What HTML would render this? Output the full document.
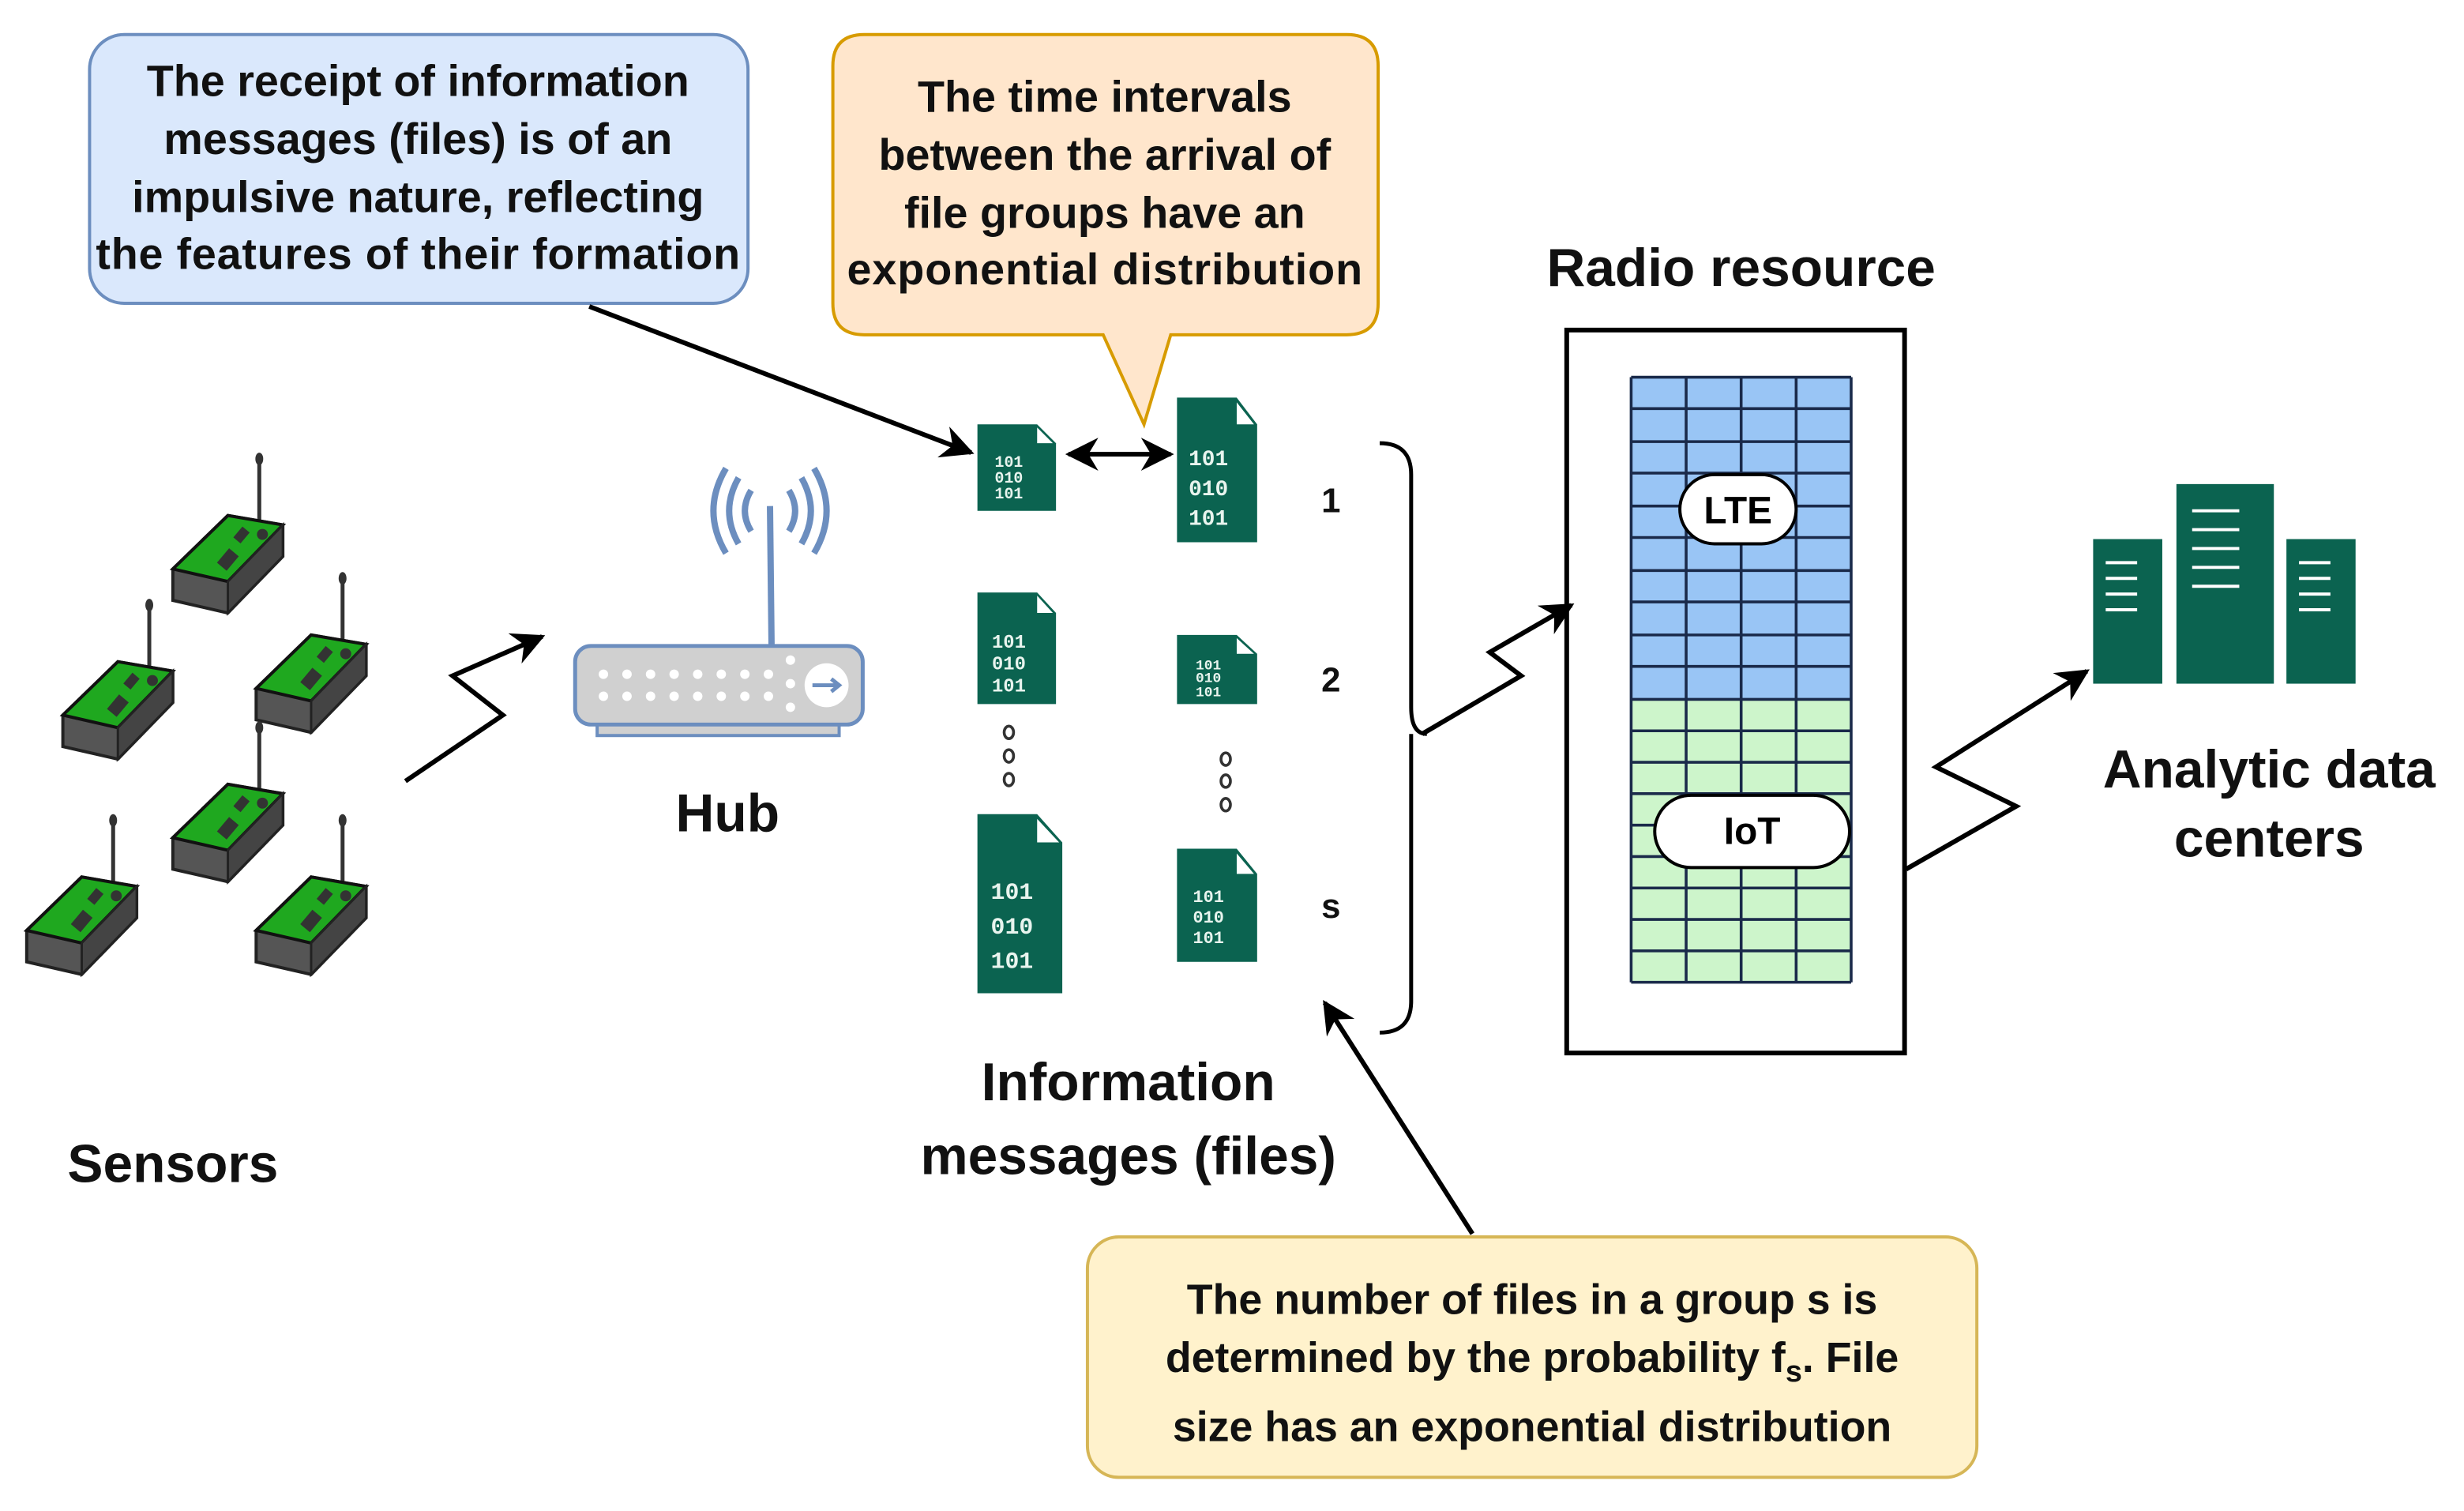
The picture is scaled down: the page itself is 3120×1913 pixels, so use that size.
<!DOCTYPE html>
<html><head><meta charset="utf-8"><style>html,body{margin:0;padding:0;background:#fff}svg{display:block}</style></head><body>
<svg width="3120" height="1913" viewBox="0 0 1568 961.4" xmlns="http://www.w3.org/2000/svg" font-family="Liberation Sans, Arial, sans-serif">
<defs>
<marker id="ah" viewBox="0 0 10 10" refX="9" refY="5" markerWidth="7" markerHeight="7" orient="auto-start-reverse"><path d="M0,0 L10,5 L0,10 L3,5 z" fill="#000"/></marker>
<g id="sensor">
<line x1="0" y1="0" x2="0" y2="45" stroke="#333" stroke-width="2.5"/>
<ellipse cx="0" cy="0" rx="2.5" ry="4" fill="#333"/>
<polygon points="-55,70 -20,36 15,42 15,62 -20,98 -55,90" fill="#555" stroke="#222" stroke-width="2"/>
<polygon points="-55,70 -20,36 15,42 -20,78" fill="#1fa81f" stroke="#111" stroke-width="2"/>
<polygon points="-20,78 15,42 15,62 -20,98" fill="#444" stroke="#222" stroke-width="1.5"/>
<rect x="-14" y="44" width="6" height="9" fill="#333" transform="rotate(40 -11 48)"/><circle cx="2" cy="48" r="3.5" fill="#333"/>
<rect x="-24" y="58" width="8" height="12" fill="#333" transform="rotate(40 -20 64)"/>
</g>
<g id="srv"><rect x="0" y="0" width="44" height="92" fill="#0b6350"/></g>
</defs>
<!-- callouts -->
<rect x="57" y="22" width="419" height="171" rx="22" fill="#dae8fc" stroke="#6c8ebf" stroke-width="2"/>
<g font-size="28" font-weight="bold" text-anchor="middle" fill="#111">
<text x="266" y="61">The receipt of information</text>
<text x="266" y="98">messages (files) is of an</text>
<text x="266" y="135">impulsive nature, reflecting</text>
<text x="266" y="171" textLength="410">the features of their formation</text>
</g>
<path d="M550,22 H857 Q877,22 877,42 V193 Q877,213 857,213 H745 L728,270 L702,213 H550 Q530,213 530,193 V42 Q530,22 550,22 Z" fill="#ffe6cc" stroke="#d79b00" stroke-width="2"/>
<g font-size="28" font-weight="bold" text-anchor="middle" fill="#111">
<text x="703" y="71">The time intervals</text>
<text x="703" y="108">between the arrival of</text>
<text x="703" y="145">file groups have an</text>
<text x="703" y="181" textLength="328">exponential distribution</text>
</g>
<rect x="692" y="787" width="566" height="153" rx="20" fill="#fff2cc" stroke="#d6b656" stroke-width="2"/>
<g font-size="27" font-weight="bold" text-anchor="middle" fill="#111">
<text x="975" y="836">The number of files in a group s is</text>
<text x="975" y="873">determined by the probability f<tspan font-size="19" dy="6">s</tspan><tspan dy="-6">. File</tspan></text>
<text x="975" y="917">size has an exponential distribution</text>
</g>
<!-- labels -->
<g font-size="34" font-weight="bold" text-anchor="middle" fill="#111">
<text x="1108" y="182">Radio resource</text>
<text x="463" y="529">Hub</text>
<text x="110" y="752">Sensors</text>
<text x="718" y="700">Information</text>
<text x="718" y="747">messages (files)</text>
<text x="1444" y="501">Analytic data</text>
<text x="1444" y="545">centers</text>
</g>
<g font-size="22" font-weight="bold" text-anchor="middle" fill="#111">
<text x="847" y="326">1</text><text x="847" y="440">2</text><text x="847" y="584">s</text>
</g>
<!-- sensors -->
<use href="#sensor" x="165" y="292"/>
<use href="#sensor" x="95" y="385"/>
<use href="#sensor" x="218" y="368"/>
<use href="#sensor" x="165" y="463"/>
<use href="#sensor" x="72" y="522"/>
<use href="#sensor" x="218" y="522"/>
<!-- hub -->
<g fill="none" stroke="#6c8ebf" stroke-width="4">
<path d="M478,312 Q470,325 478,338"/><path d="M470,304 Q458,325 470,346"/><path d="M462,298 Q446,325 462,352"/>
<path d="M502,312 Q510,325 502,338"/><path d="M510,304 Q522,325 510,346"/><path d="M518,298 Q534,325 518,352"/>
</g>
<line x1="490" y1="322" x2="491" y2="412" stroke="#6c8ebf" stroke-width="4"/>
<rect x="380" y="458" width="154" height="10" fill="#d0d0d0" stroke="#6c8ebf" stroke-width="2"/>
<rect x="366" y="411" width="183" height="50" rx="10" fill="#d0d0d0" stroke="#6c8ebf" stroke-width="2.5"/>
<g fill="#fff">
<circle cx="384" cy="429" r="3"/><circle cx="399" cy="429" r="3"/><circle cx="414" cy="429" r="3"/><circle cx="429" cy="429" r="3"/><circle cx="444" cy="429" r="3"/><circle cx="459" cy="429" r="3"/><circle cx="474" cy="429" r="3"/><circle cx="489" cy="429" r="3"/>
<circle cx="384" cy="443" r="3"/><circle cx="399" cy="443" r="3"/><circle cx="414" cy="443" r="3"/><circle cx="429" cy="443" r="3"/><circle cx="444" cy="443" r="3"/><circle cx="459" cy="443" r="3"/><circle cx="474" cy="443" r="3"/><circle cx="489" cy="443" r="3"/>
<circle cx="503" cy="420" r="3"/><circle cx="503" cy="435" r="3"/><circle cx="503" cy="450" r="3"/>
<circle cx="526" cy="436" r="14"/>
</g>
<path d="M517,436 H533 M529,432 L534,436 L529,440" stroke="#6c8ebf" stroke-width="2.5" fill="none"/>
<!-- files -->
<g fill="#0b6350">
<path d="M622,270 H660 L672,282 V325 H622 Z"/>
<path d="M749,253 H787 L800,270 V345 H749 Z"/>
<path d="M622,377 H660 L672,390 V448 H622 Z"/>
<path d="M749,404 H787 L800,416 V448 H749 Z"/>
<path d="M622,518 H660 L676,536 V632 H622 Z"/>
<path d="M749,540 H787 L800,556 V612 H749 Z"/>
</g>
<g fill="#fff">
<path d="M660,272 L670,282 H660 Z"/><path d="M787,256 L798,270 H787 Z"/><path d="M660,379 L670,390 H660 Z"/><path d="M787,406 L798,416 H787 Z"/><path d="M660,521 L674,536 H660 Z"/><path d="M787,543 L798,556 H787 Z"/>
</g>
<g fill="#e8f4ee" font-family="Liberation Mono, monospace" font-weight="bold" text-anchor="middle">
<g font-size="10"><text x="642" y="297">101</text><text x="642" y="307">010</text><text x="642" y="317">101</text></g>
<g font-size="14"><text x="769" y="296">101</text><text x="769" y="315">010</text><text x="769" y="334">101</text></g>
<g font-size="12"><text x="642" y="412">101</text><text x="642" y="426">010</text><text x="642" y="440">101</text></g>
<g font-size="9"><text x="769" y="426">101</text><text x="769" y="434">010</text><text x="769" y="443">101</text></g>
<g font-size="15"><text x="644" y="572">101</text><text x="644" y="594">010</text><text x="644" y="616">101</text></g>
<g font-size="11"><text x="769" y="574">101</text><text x="769" y="587">010</text><text x="769" y="600">101</text></g>
</g>
<g fill="none" stroke="#333" stroke-width="1.8">
<ellipse cx="642" cy="466" rx="3" ry="4"/><ellipse cx="642" cy="481" rx="3" ry="4"/><ellipse cx="642" cy="496" rx="3" ry="4"/>
<ellipse cx="780" cy="483" rx="3" ry="4"/><ellipse cx="780" cy="497" rx="3" ry="4"/><ellipse cx="780" cy="512" rx="3" ry="4"/>
</g>
<!-- radio resource -->
<rect x="997" y="210" width="215" height="460" fill="#fff" stroke="#000" stroke-width="3"/>
<rect x="1038" y="240" width="140" height="205" fill="#99c5f5"/>
<rect x="1038" y="445" width="140" height="180" fill="#cdf5cb"/>
<g stroke="#1a2a4a" stroke-width="1.8">
<line x1="1038" y1="240" x2="1038" y2="625"/><line x1="1073" y1="240" x2="1073" y2="625"/><line x1="1108" y1="240" x2="1108" y2="625"/><line x1="1143" y1="240" x2="1143" y2="625"/><line x1="1178" y1="240" x2="1178" y2="625"/>
<line x1="1038" y1="240" x2="1178" y2="240"/><line x1="1038" y1="260" x2="1178" y2="260"/><line x1="1038" y1="281" x2="1178" y2="281"/><line x1="1038" y1="301" x2="1178" y2="301"/><line x1="1038" y1="322" x2="1178" y2="322"/><line x1="1038" y1="342" x2="1178" y2="342"/><line x1="1038" y1="363" x2="1178" y2="363"/><line x1="1038" y1="383" x2="1178" y2="383"/><line x1="1038" y1="404" x2="1178" y2="404"/><line x1="1038" y1="424" x2="1178" y2="424"/><line x1="1038" y1="445" x2="1178" y2="445"/>
<line x1="1038" y1="465" x2="1178" y2="465"/><line x1="1038" y1="485" x2="1178" y2="485"/><line x1="1038" y1="505" x2="1178" y2="505"/><line x1="1038" y1="525" x2="1178" y2="525"/><line x1="1038" y1="545" x2="1178" y2="545"/><line x1="1038" y1="565" x2="1178" y2="565"/><line x1="1038" y1="585" x2="1178" y2="585"/><line x1="1038" y1="605" x2="1178" y2="605"/><line x1="1038" y1="625" x2="1178" y2="625"/>
</g>
<rect x="1069" y="302" width="74" height="44" rx="22" fill="#fff" stroke="#000" stroke-width="2"/>
<text x="1106" y="333" font-size="24" font-weight="bold" text-anchor="middle">LTE</text>
<rect x="1053" y="506" width="124" height="46" rx="23" fill="#fff" stroke="#000" stroke-width="2"/>
<text x="1115" y="537" font-size="24" font-weight="bold" text-anchor="middle">IoT</text>
<!-- servers -->
<use href="#srv" x="1332" y="343"/>
<rect x="1385" y="308" width="62" height="127" fill="#0b6350"/>
<use href="#srv" x="1455" y="343"/>
<g stroke="#fff" stroke-width="2">
<line x1="1340" y1="358" x2="1360" y2="358"/><line x1="1340" y1="368" x2="1360" y2="368"/><line x1="1340" y1="378" x2="1360" y2="378"/><line x1="1340" y1="388" x2="1360" y2="388"/>
<line x1="1395" y1="325" x2="1425" y2="325"/><line x1="1395" y1="337" x2="1425" y2="337"/><line x1="1395" y1="349" x2="1425" y2="349"/><line x1="1395" y1="361" x2="1425" y2="361"/><line x1="1395" y1="373" x2="1425" y2="373"/>
<line x1="1463" y1="358" x2="1483" y2="358"/><line x1="1463" y1="368" x2="1483" y2="368"/><line x1="1463" y1="378" x2="1483" y2="378"/><line x1="1463" y1="388" x2="1483" y2="388"/>
</g>
<!-- connectors -->
<g fill="none" stroke="#000" stroke-width="3">
<line x1="375" y1="195" x2="618" y2="288" marker-end="url(#ah)"/>
<line x1="680" y1="289" x2="745" y2="289" marker-start="url(#ah)" marker-end="url(#ah)"/>
<polyline points="258,497 320,455 288,430 345,405" marker-end="url(#ah)"/>
<polyline points="905,467 968,430 948,415 1000,385" marker-end="url(#ah)"/>
<polyline points="1213,553 1283,513 1232,488 1328,427" marker-end="url(#ah)"/>
<line x1="937" y1="785" x2="843" y2="638" marker-end="url(#ah)"/>
<path d="M878,282 Q898,282 898,302 V450 Q898,467 908,467 M898,467 Q898,480 898,490 V637 Q898,657 878,657" stroke-width="2.5"/>
</g>
</svg>
</body></html>
